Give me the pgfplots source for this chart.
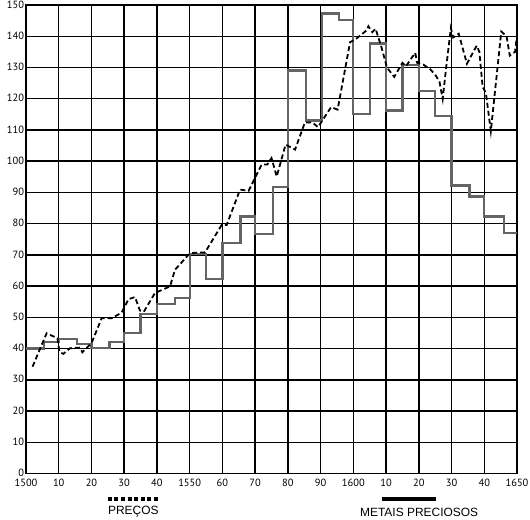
\documentclass[border=0pt]{standalone}
\usepackage{pgfplots}
\pgfplotsset{compat=1.18}
\usepackage{fontspec}
\setmainfont{PT Sans}
\newfontfamily\legfont{Liberation Sans}
\definecolor{stepgray}{RGB}{100,100,100}
\begin{document}
\begin{tikzpicture}
\begin{axis}[
  at={(0,0)}, anchor=south west,
  scale only axis, width=491bp, height=468.5bp,
  xmin=1500, xmax=1650, ymin=0, ymax=150,
  xtick={1500,1510,...,1650},
  xticklabels={1500,10,20,30,40,1550,60,70,80,90,1600,10,20,30,40,1650},
  ytick={0,10,...,150},
  /pgf/number format/assume math mode=true,
  ticklabel style={font=\fontsize{10.5}{12}\selectfont},
  xticklabel style={yshift=-2bp},
  yticklabel style={xshift=1.5bp, yshift=0.5bp},
  major tick length=0pt,
  grid=major,
  major grid style={black, line width=1.45bp},
  axis line style={black, line width=1.45bp},
  clip=false,
]
\addplot[const plot, stepgray, line width=2.2bp] coordinates {
(1500,40)(1505.5,42)(1510,43)(1515.5,41.5)(1520,40.3)(1525.5,42)(1530,45)
(1535,51)(1540,54.3)(1545.5,56.3)(1550,70.3)(1555,62.3)(1560,73.7)(1565.5,82.3)
(1570,76.8)(1575.5,91.7)(1580,129)(1585.5,113)(1590.5,147.3)(1595.5,145.3)
(1600,115)(1605,137.7)(1610,116.2)(1615,130.8)(1620,122.4)(1625,114.4)
(1630,92.2)(1635.5,88.7)(1640,82.3)(1646,77)(1650,77)};
\addplot[black, line width=1.8bp, dash pattern=on 5bp off 3bp] coordinates {
(1502,34.2)(1506.3,44.9)(1509.6,43.3)(1510.2,39)(1511.4,38.3)(1513.4,40.1)(1516.5,40.3)
(1517.2,38.8)(1520,41.7)(1523.1,49.7)(1526.2,49.7)(1529.2,51.5)(1531.3,55.8)(1533.3,56.5)
(1534.8,52.2)(1536,51.8)(1539.4,57.8)(1544,59.9)(1545.5,65.2)(1549.6,70)(1550.5,70.6)
(1554.7,70.8)(1559.8,79.6)(1561.3,79.6)(1565.4,90.9)(1568,90.5)(1572,98.9)(1573.7,98.9)
(1575,101)(1576.6,95.1)(1579.3,105.3)(1582.2,103.7)(1585.2,112.4)(1587.5,112.4)
(1589.2,110.9)(1593.2,117.3)(1595.2,116.5)(1599,138.1)(1600.5,138.9)(1604.1,141.9)
(1604.6,143.2)(1605.8,141.3)(1606.8,142.4)(1608.5,136.8)(1610.3,129.9)(1612.5,127)
(1615,131.5)(1616.1,130.4)(1618.9,134.7)(1619.5,131.5)(1621.4,130.9)(1623.5,129.4)
(1625,127.7)(1626.3,125.5)(1627.3,119.9)(1628.4,130.4)(1629.8,142.6)(1630.5,139.6)
(1632.2,140.8)(1634.7,131.2)(1637.7,137)(1638.5,135)(1639.5,123.8)(1640.5,121.8)
(1642,109.6)(1645.2,141.5)(1646.8,140)(1647.8,133.8)(1649.4,135)(1650,140.5)};
\draw[black, line width=4bp, dash pattern=on 4bp off 2.6bp] (axis cs:1525,-8.1) -- (axis cs:1541,-8.1);
\node[font=\legfont\fontsize{12}{14}\selectfont] at (axis cs:1532.8,-12.3) {PREÇOS};
\draw[black, line width=3.5bp] (axis cs:1608.9,-8.1) -- (axis cs:1625.2,-8.1);
\node[font=\legfont\fontsize{12}{14}\selectfont] at (axis cs:1620.1,-12.3) {METAIS PRECIOSOS};
\end{axis}
\pgfresetboundingbox
\path[use as bounding box] (-26bp,-46.5bp) rectangle (504bp,473.5bp);
\end{tikzpicture}
\end{document}
